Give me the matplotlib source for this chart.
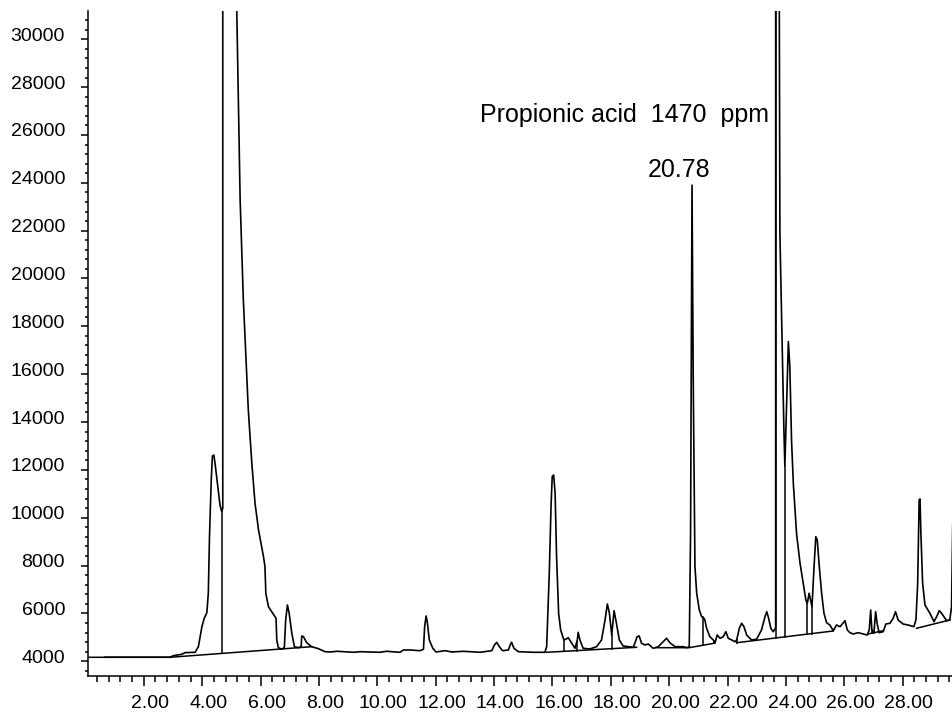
import numpy as np
import matplotlib
matplotlib.use('Agg')
import matplotlib.pyplot as plt
from matplotlib.ticker import MultipleLocator, FormatStrFormatter
from matplotlib.transforms import ScaledTranslation

plt.rcParams['font.family'] = ['Liberation Sans', 'DejaVu Sans']

# chromatogram trace: retention time (min) and detector signal
trace_t = [0.67, 2.90, 3.01, 3.30, 3.41, 3.76, 3.87, 3.99, 4.07, 4.16, 4.21, 4.25, 4.31, 4.35,
           4.40, 4.44, 4.52, 4.61, 4.67, 4.705, 4.705, 4.90, 5.17, 5.185, 5.24, 5.30, 5.41, 5.58,
           5.70, 5.81, 5.93, 6.10, 6.15, 6.18, 6.27, 6.38, 6.53, 6.555, 6.61, 6.73, 6.815, 6.86,
           6.92, 6.98, 7.07, 7.16, 7.30, 7.39, 7.41, 7.47, 7.58, 7.75, 7.98, 8.21, 8.38, 8.62,
           9.18, 9.41, 10.09, 10.32, 10.78, 10.89, 11.12, 11.46, 11.58, 11.62, 11.67, 11.71, 11.78,
           11.90, 12.01, 12.32, 12.55, 12.95, 13.52, 13.92, 14.01, 14.09, 14.18, 14.29, 14.49,
           14.55, 14.60, 14.68, 14.83, 15.34, 15.74, 15.80, 15.89, 15.95, 15.99, 16.04, 16.09,
           16.14, 16.21, 16.28, 16.39, 16.49, 16.54, 16.66, 16.77, 16.85, 16.88, 16.94, 17.05,
           17.28, 17.51, 17.68, 17.80, 17.88, 17.95, 18.03, 18.11, 18.17, 18.29, 18.42, 18.77,
           18.90, 18.97, 19.05, 19.17, 19.28, 19.45, 19.62, 19.79, 19.91, 20.02, 20.20, 20.48,
           20.60, 20.685, 20.73, 20.78, 20.82, 20.86, 20.88, 20.94, 21.03, 21.11, 21.19, 21.22,
           21.28, 21.39, 21.51, 21.565, 21.64, 21.74, 21.85, 21.94, 22.02, 22.14, 22.25, 22.31,
           22.40, 22.48, 22.56, 22.65, 22.82, 22.99, 23.16, 23.28, 23.34, 23.39, 23.48, 23.56,
           23.60, 23.645, 23.645, 23.72, 23.765, 23.77, 23.79, 23.93, 23.96, 24.08, 24.13, 24.19,
           24.25, 24.36, 24.48, 24.59, 24.68, 24.73, 24.79, 24.84, 24.89, 24.96, 25.02, 25.07,
           25.14, 25.22, 25.30, 25.39, 25.50, 25.62, 25.73, 25.85, 26.02, 26.10, 26.19, 26.30,
           26.47, 26.64, 26.78, 26.85, 26.90, 26.94, 27.01, 27.07, 27.12, 27.19, 27.33, 27.42,
           27.56, 27.67, 27.75, 27.84, 28.01, 28.18, 28.38, 28.45, 28.51, 28.56, 28.59, 28.62,
           28.68, 28.76, 28.93, 29.07, 29.16, 29.25, 29.33, 29.50, 29.61, 29.67, 29.71, 29.76]
trace_y = [4170, 4170, 4234, 4293, 4360, 4376, 4610, 5446, 5797, 6031, 6842, 9208, 11578, 12582,
           12623, 12276, 11440, 10533, 10253, 10400, 40000, 60000, 32500, 31170, 27460, 23280, 19100, 14500,
           12276, 10604, 9488, 8372, 7954, 6842, 6282, 6073, 5797, 4890, 4568, 4502, 4585, 5726,
           6353, 6006, 5170, 4610, 4568, 4610, 5058, 5028, 4777, 4610, 4527, 4401, 4389, 4418,
           4376, 4401, 4376, 4418, 4376, 4472, 4472, 4443, 4502, 5446, 5894, 5655, 4890,
           4543, 4389, 4443, 4389, 4418, 4376, 4443, 4681, 4794, 4610, 4443, 4472,
           4681, 4794, 4543, 4401, 4376, 4376, 4610, 7678, 10462, 11716, 11787, 11022,
           8372, 6006, 5308, 4890, 4945, 4986, 4752, 4543, 4890, 5212, 4890, 4543,
           4514, 4610, 4890, 5726, 6395, 6006, 5099, 6115, 5726, 4890, 4640, 4585,
           5028, 5058, 4752, 4681, 4723, 4543, 4610, 4819, 4961, 4777, 4610, 4610,
           4568, 4610, 9350, 23900, 16000, 10743, 7954, 6842, 6144, 5864, 5797, 5726,
           5379, 5028, 4890, 4752, 5099, 4961, 5028, 5237, 4961, 4890, 4819, 4890,
           5379, 5588, 5446, 5099, 4890, 4920, 5308, 5864, 6073, 5864, 5379, 5237,
           5308, 5400, 45000, 60000, 33000, 31183, 21900, 13530, 12160, 17360, 16314, 13200,
           11440, 9350, 8096, 7260, 6562, 6424, 6842, 6562, 6282, 7954, 9208, 9070,
           7954, 6842, 6006, 5613, 5517, 5279, 5517, 5446, 5697, 5308, 5195, 5141,
           5195, 5141, 5099, 5308, 6144, 5308, 5170, 6073, 5588, 5195, 5237, 5559,
           5588, 5797, 6073, 5726, 5559, 5517, 5446, 5726, 7260, 10743, 10784, 9350,
           7260, 6353, 6006, 5655, 5864, 6115, 6006, 5697, 5726, 6282, 9626, 12000]

# integration baselines (each a separate segment)
baseline_t = [[0.10, 2.90, 7.75],
              [15.80, 18.88],
              [19.54, 20.68, 21.53],
              [22.31, 25.62],
              [26.81, 27.33],
              [28.47, 29.61]]
baseline_y = [[4167, 4167, 4610],
              [4376, 4585],
              [4568, 4568, 4752],
              [4777, 5267],
              [5141, 5279],
              [5379, 5726]]

# drop lines between integrated peaks
drop_t = [4.67, 16.40, 16.83, 18.03, 21.15, 21.53, 22.31, 23.645, 23.96, 24.73, 24.89, 26.94]

fig = plt.figure(figsize=(9.53, 7.16), dpi=100)
ax = fig.add_axes([0.0927, 0.0559, 0.9073, 0.9288])

ax.plot(trace_t, trace_y, color='black', lw=1.2)
for bt, by in zip(baseline_t, baseline_y):
    ax.plot(bt, by, color='black', lw=1.1)

all_bt = np.concatenate(baseline_t)
all_by = np.concatenate(baseline_y)
for t in drop_t:
    top = np.interp(t, trace_t, trace_y)
    bot = np.interp(t, all_bt, all_by)
    ax.plot([t, t], [bot, top], color='black', lw=1.1)

ax.text(13.52, 26560, 'Propionic acid  1470  ppm', fontsize=18, ha='left', va='baseline')
ax.text(19.28, 24256, '20.78', fontsize=18, ha='left', va='baseline')

ax.set_xlim(0.10, 29.72)
ax.set_ylim(3386, 31183)

ax.spines['top'].set_visible(False)
ax.spines['right'].set_visible(False)
ax.spines['left'].set_linewidth(1.1)
ax.spines['bottom'].set_linewidth(1.1)

ax.xaxis.set_major_locator(MultipleLocator(2))
ax.xaxis.set_minor_locator(MultipleLocator(0.4))
ax.xaxis.set_major_formatter(FormatStrFormatter('%.2f'))
ax.yaxis.set_major_locator(MultipleLocator(2000))
ax.yaxis.set_minor_locator(MultipleLocator(400))

ax.tick_params(axis='x', which='major', length=7.2, width=1.1, labelsize=14, pad=6.5)
ax.tick_params(axis='x', which='minor', length=4.3, width=1.1)
ax.tick_params(axis='y', which='major', length=4.8, width=1.1, labelsize=14, pad=12)
ax.tick_params(axis='y', which='minor', length=2.4, width=1.1)

for lab in ax.get_xticklabels():
    lab.set_transform(lab.get_transform() + ScaledTranslation(0.06, 0, fig.dpi_scale_trans))
for lab in ax.get_yticklabels():
    lab.set_transform(lab.get_transform() + ScaledTranslation(0, 0.05, fig.dpi_scale_trans))

fig.savefig('out.png', dpi=100)
